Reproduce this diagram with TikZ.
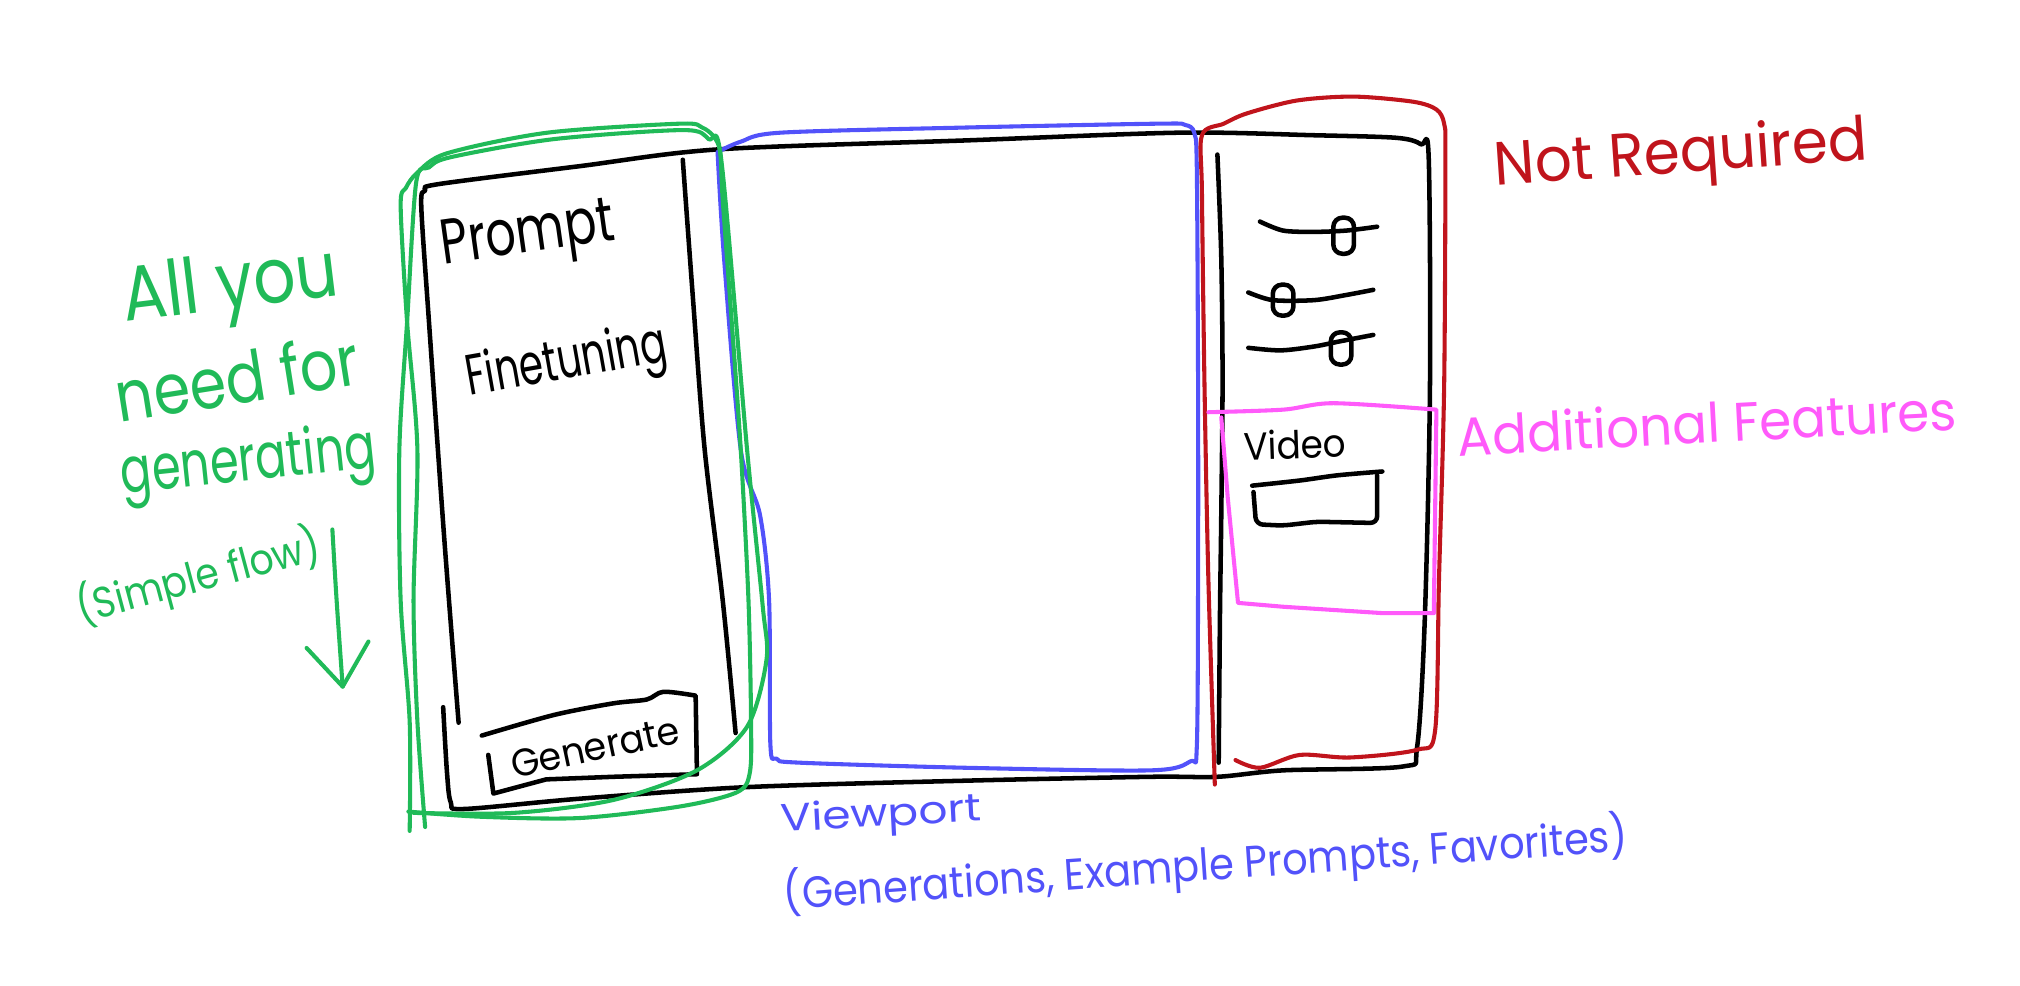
\documentclass[tikz,border=0pt]{standalone}
\usepackage{fontspec}
\usepackage{graphicx}
\setmainfont{Poppins}
\definecolor{penGreen}{RGB}{32,186,88}
\definecolor{penBlue}{RGB}{82,82,250}
\definecolor{penRed}{RGB}{192,20,28}
\definecolor{penPink}{RGB}{255,90,250}
% squeeze handwriting horizontally
\newcommand{\sqz}[2]{\scalebox{#1}[1]{#2}}
\newcommand{\fs}[1]{\fontsize{#1}{#1}\selectfont}
\begin{document}
\begin{tikzpicture}[x=0.01cm,y=-0.01cm,line cap=round,line join=round,
  ink/.style={line width=1pt,draw=black},
  pen/.style={line width=0.9pt},
  knob/.style={ink,rounded corners=2pt},
  note/.style={inner sep=0pt,outer sep=0pt}]
\useasboundingbox (0,0) rectangle (1568,765);

% ---------- window frame ----------
\draw[ink] plot[smooth,tension=0.5] coordinates {(356,561) (345,420) (333,250) (327,160) (330,148) (340,143) (450,129) (557,116) (750,109) (916,103) (1020,105) (1084,107) (1103,112) (1109,122) (1110,300) (1106,480) (1100,580) (1089,595) (996,598) (945,603) (893,603) (750,606) (580,611) (450,620) (360,628) (350,623) (347,600) (344,549)};
% left panel divider
\draw[ink] plot[smooth] coordinates {(530,124) (538,233) (547,349) (561,466) (571,569)};
% right panel divider
\draw[ink] plot[smooth] coordinates {(945,120) (948,200) (949,295) (948,400) (947,476) (946,592)};

% ---------- sliders ----------
\draw[ink] plot[smooth] coordinates {(978,172) (996,179) (1020,180) (1045,179) (1069,176)};
\draw[knob] (1035,169) rectangle (1051,197);
\draw[ink] plot[smooth] coordinates {(969,227) (988,233) (1020,233) (1045,229) (1066,225)};
\draw[knob] (988,221) rectangle (1004,245);
\draw[ink] plot[smooth] coordinates {(969,270) (994,272) (1020,269) (1040,265) (1066,260)};
\draw[knob] (1033,258) rectangle (1049,283);

% ---------- video field ----------
\draw[ink] plot[smooth] coordinates {(972,377) (1009,373) (1038,369) (1073,366)};
\draw[ink,rounded corners=1.5pt] (973,382) -- (975,407) -- (996,408) -- (1022,405) -- (1069,406) -- (1069,369);

% ---------- generate button ----------
\draw[ink] plot[smooth,tension=0.5] coordinates {(374,571) (430,555) (476,546) (502,543) (515,537) (540,540)} -- (541,601) -- (476,603) -- (424,605) -- (383,616) -- (379,586);

% ---------- viewport outline ----------
\draw[pen,penBlue] plot[smooth,tension=0.5] coordinates {(557,118) (575,110) (606,103) (750,99) (900,96) (920,97) (927,103) (929,130) (930,300) (930,450) (929,580) (924,591) (893,598) (750,596) (620,592) (603,589) (598,578) (597,466) (590,400) (575,349) (562,200) (557,118)};

% ---------- not required outline ----------
\draw[pen,penRed] plot[smooth,tension=0.5] coordinates {(943,609) (938,450) (935,300) (933,150) (933,105) (950,96) (968,88) (1007,78) (1051,75) (1097,79) (1115,85) (1121,96) (1122,122) (1121,300) (1117,450) (1114,567) (1100,582) (1048,588) (1009,586) (978,596) (959,590)};

% ---------- additional features outline ----------
\draw[pen,penPink] plot[smooth] coordinates {(938,320) (996,318) (1035,313) (1115,318)} -- (1113,476) -- (1074,476) -- (996,471) -- (961,468) -- (953,386) -- (948,324);

% ---------- simple flow outline ----------
\draw[pen,penGreen] plot[smooth,tension=0.5] coordinates {(330,642) (324,560) (321,466) (324,349) (316,250) (311,160) (315,146) (324,134) (347,119) (425,103) (528,96) (545,99) (554,106) (559,118) (561,155) (568,250) (575,349) (581,466) (583,560) (582,600) (572,615) (528,626) (450,635) (373,634) (317,630)};
\draw[pen,penGreen] plot[smooth,tension=0.5] coordinates {(318,645) (318,560) (311,466) (310,349) (316,250) (323,142) (333,130) (350,122) (430,108) (530,101) (550,108) (560,125) (580,350) (592,470) (595,512) (580,564) (541,598) (476,621) (399,631) (321,631)};

% ---------- green arrow ----------
\coordinate (flowTop) at (258,411);
\coordinate (flowTip) at (266,533);
\draw[pen,penGreen] (flowTop) .. controls (261,463) .. (flowTip);
\draw[pen,penGreen] (238,503) -- (flowTip) -- (286,498);

% ---------- panel labels ----------
\node[note,rotate=8,font=\fs{14}] (prompt) at (410,185) {\sqz{0.75}{Prompt}};
\node[note,rotate=10,font=\fs{12.6}] (finetune) at (440,283) {\sqz{0.68}{Finetuning}};
\node[note,rotate=12,font=\fs{8.5}] (generate) at (462,580) {\sqz{0.95}{Generate}};
\node[note,rotate=2,font=\fs{8.5}] (video) at (1005,345) {\sqz{0.93}{Video}};

% ---------- annotations ----------
\node[note,text=penRed,rotate=4,font=\fs{13.5}] (notreq) at (1305,122) {\sqz{0.95}{Not Required}};
\node[note,text=penPink,rotate=3,font=\fs{12}] (addfeat) at (1325,328) {\sqz{0.95}{Additional Features}};
\node[note,text=penGreen,rotate=7,font=\fs{17}] (allyou) at (179,225) {\sqz{0.86}{All you}};
\node[note,text=penGreen,rotate=9,font=\fs{15.5}] (needfor) at (184,293) {\sqz{0.84}{need for}};
\node[note,text=penGreen,rotate=6,font=\fs{14}] (generating) at (193,361) {\sqz{0.73}{generating}};
\node[note,text=penGreen,rotate=15,font=\fs{9.5}] (simple) at (154,448) {\sqz{0.88}{(Simple flow)}};
\node[note,text=penBlue,rotate=3,font=\fs{8.5}] (viewport) at (684,634) {\sqz{1.18}{Viewport}};
\node[note,text=penBlue,rotate=4,font=\fs{9.7}] (viewlist) at (936,672) {\sqz{0.91}{(Generations, Example Prompts, Favorites)}};
\end{tikzpicture}
\end{document}
